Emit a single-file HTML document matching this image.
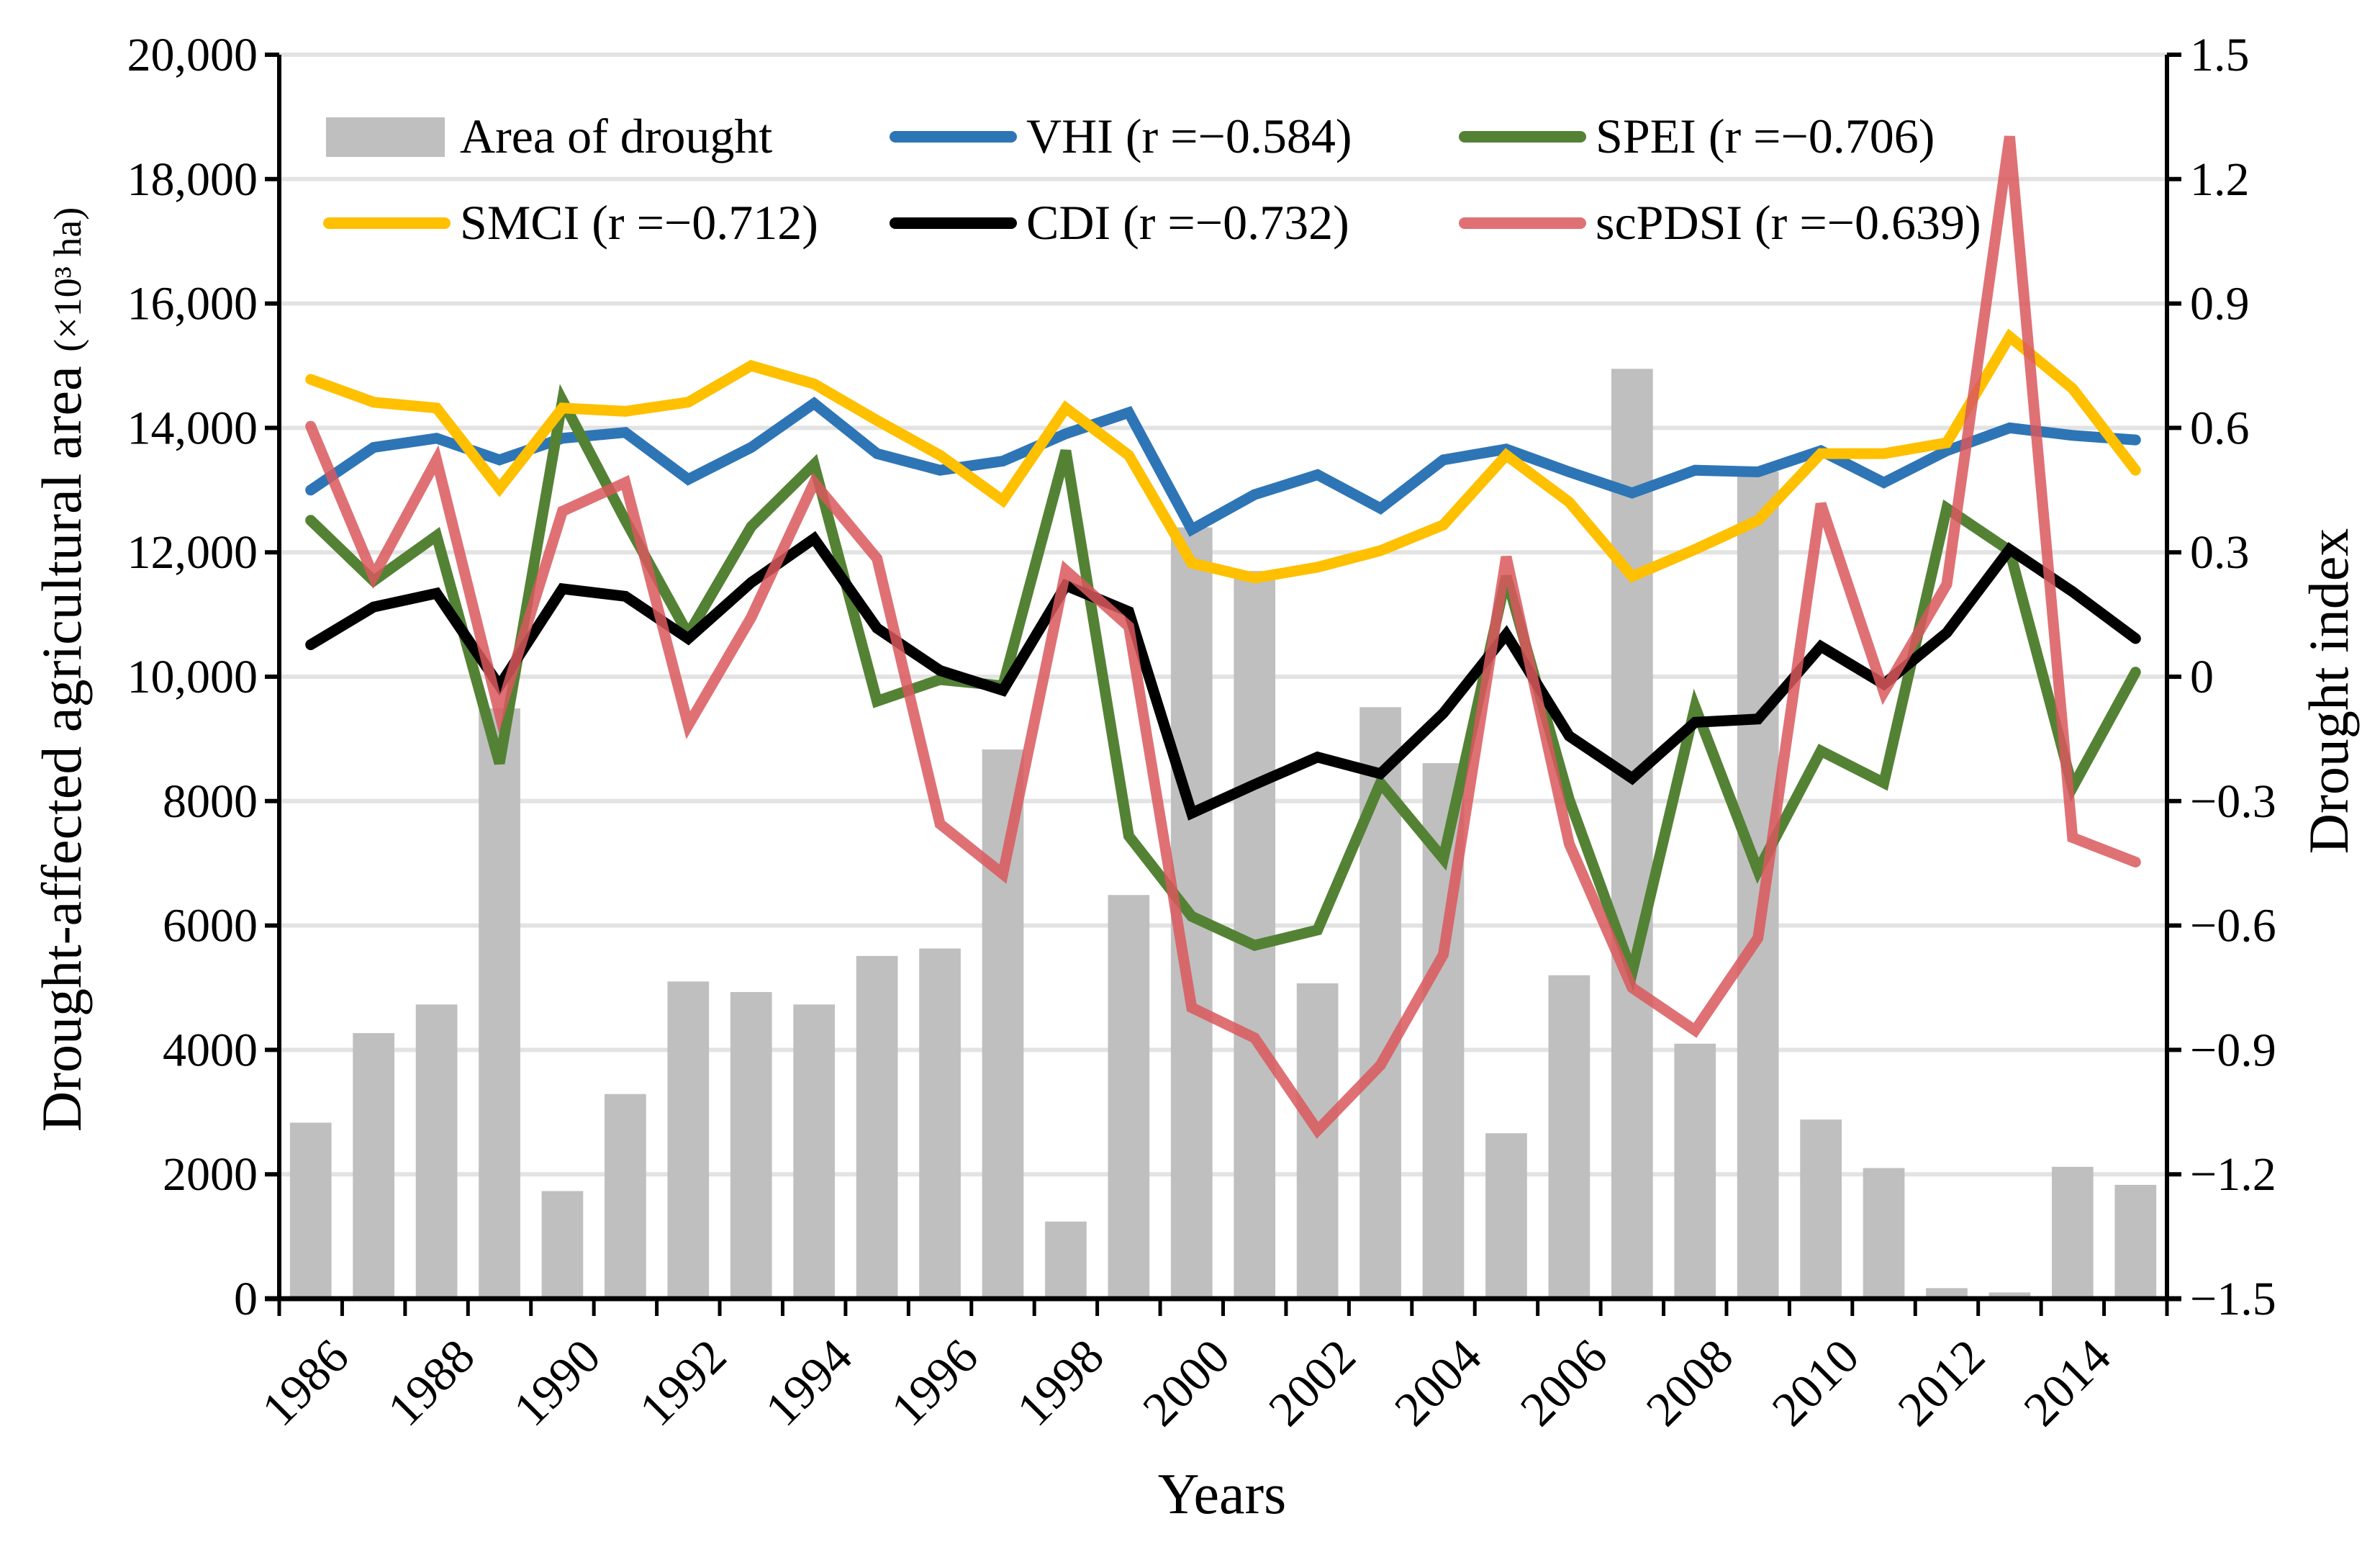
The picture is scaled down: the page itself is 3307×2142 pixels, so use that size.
<!DOCTYPE html>
<html><head><meta charset="utf-8"><style>
html,body{margin:0;padding:0;background:#fff;}
svg{display:block;}
svg text{font-family:"Liberation Serif","Times New Roman",serif;}
</style></head><body>
<svg id="chart" width="3307" height="2142" viewBox="0 0 3307 2142" xmlns="http://www.w3.org/2000/svg" font-family="Liberation Serif, serif">
<g id="grid"></g>
<g id="bars"></g>
<g id="lines"></g>
<g id="axes"></g>
<g id="legend"></g>
<text x="1698" y="2102" font-size="80" text-anchor="middle">Years</text>
<text transform="translate(112,930) rotate(-90)" font-size="78" text-anchor="middle">Drought-affected  agricultural area <tspan font-size="54">(×10³ ha)</tspan></text>
<text transform="translate(3262,960) rotate(-90)" font-size="78" text-anchor="middle">Drought index</text>
</svg>
<script>
const years = [1986,1987,1988,1989,1990,1991,1992,1993,1994,1995,1996,1997,1998,1999,2000,2001,2002,2003,2004,2005,2006,2007,2008,2009,2010,2011,2012,2013,2014,2015];
const area = [2830,4270,4730,9490,1730,3290,5100,4930,4730,5510,5630,8830,1240,6490,12400,11700,5070,9510,8610,2660,5200,14950,4100,13300,2880,2100,170,100,2120,1830];
const vhi = [0.45,0.553,0.575,0.523,0.575,0.589,0.476,0.553,0.659,0.538,0.498,0.52,0.586,0.637,0.355,0.439,0.487,0.406,0.523,0.549,0.494,0.443,0.498,0.494,0.545,0.468,0.545,0.6,0.582,0.571];
const spei = [0.377,0.231,0.34,-0.209,0.666,0.377,0.102,0.362,0.512,-0.059,-0.007,-0.022,0.545,-0.384,-0.578,-0.648,-0.611,-0.256,-0.439,0.242,-0.296,-0.714,-0.073,-0.468,-0.179,-0.256,0.406,0.304,-0.267,0.011];
const smci = [0.717,0.662,0.648,0.454,0.648,0.64,0.662,0.75,0.706,0.618,0.534,0.425,0.648,0.534,0.274,0.238,0.264,0.304,0.366,0.534,0.421,0.242,0.307,0.377,0.538,0.538,0.564,0.82,0.695,0.498];
const cdi = [0.077,0.168,0.201,-0.022,0.212,0.194,0.092,0.227,0.333,0.117,0.015,-0.033,0.22,0.157,-0.329,-0.26,-0.194,-0.234,-0.088,0.102,-0.143,-0.245,-0.11,-0.102,0.073,-0.018,0.106,0.307,0.205,0.092];
const scpdsi = [0.604,0.242,0.523,-0.088,0.399,0.468,-0.117,0.143,0.468,0.285,-0.355,-0.476,0.256,0.121,-0.798,-0.871,-1.094,-0.937,-0.67,0.289,-0.403,-0.75,-0.853,-0.63,0.417,-0.037,0.223,1.303,-0.388,-0.447];
const leftTicks = ["0","2000","4000","6000","8000","10,000","12,000","14,000","16,000","18,000","20,000"];
const rightTicks = ["−1.5","−1.2","−0.9","−0.6","−0.3","0","0.3","0.6","0.9","1.2","1.5"];

const NS="http://www.w3.org/2000/svg";
const X0=388,X1=3011,Y0=1804,Y1=76;
const band=(X1-X0)/years.length;
const xc=i=>X0+band*(i+0.5);
const yL=v=>Y0-(v/20000)*(Y0-Y1);
const yR=v=>Y0-((v+1.5)/3)*(Y0-Y1);
function mk(tag,attrs,parent){const e=document.createElementNS(NS,tag);for(const k in attrs)e.setAttribute(k,attrs[k]);parent.appendChild(e);return e;}
const grid=document.getElementById('grid'),bars=document.getElementById('bars'),lines=document.getElementById('lines'),axes=document.getElementById('axes'),legend=document.getElementById('legend');

for(let i=1;i<leftTicks.length;i++){
  const y=yL(i*2000);
  const g=mk('line',{x1:X0,x2:X1,y1:y,y2:y,stroke:'#e3e3e3','stroke-width':6},grid);
  
  
}
area.forEach((v,i)=>{
  const w=band*0.66;
  const r=mk('rect',{x:xc(i)-w/2,y:yL(v),width:w,height:Y0-yL(v),fill:'#bfbfbf'},bars);
  
  
});
const series=[[vhi,'#2e75b6',1,'vhi-line'],[spei,'#548235',1,'spei-line'],[smci,'#ffc000',1,'smci-line'],[cdi,'#000000',1,'cdi-line'],[scpdsi,'#d9585d',0.85,'scpdsi-line']];
series.forEach(s=>{
  const d=s[0].map((v,i)=>(i?'L':'M')+xc(i).toFixed(1)+' '+yR(v).toFixed(1)).join(' ');
  const p=mk('path',{d:d,fill:'none',stroke:s[1],'stroke-width':15,'stroke-opacity':s[2],'stroke-linejoin':'miter','stroke-linecap':'round'},lines);
  
  
});
const la=mk('line',{x1:X0,x2:X0,y1:Y1,y2:Y0,stroke:'#000','stroke-width':6},axes);


const ra=mk('line',{x1:X1,x2:X1,y1:Y1,y2:Y0,stroke:'#000','stroke-width':6},axes);


const xa=mk('line',{x1:X0-20,x2:X1+20,y1:Y0,y2:Y0,stroke:'#000','stroke-width':7},axes);


leftTicks.forEach((t,i)=>{
  const y=yL(i*2000);
  mk('line',{x1:X0-20,x2:X0,y1:y,y2:y,stroke:'#000','stroke-width':6},axes);
  const tx=mk('text',{x:X0-30,y:y+22,'font-size':66,'text-anchor':'end'},axes);
  tx.textContent=t;
  
  
});
rightTicks.forEach((t,i)=>{
  const y=yR(-1.5+i*0.3);
  mk('line',{x1:X1,x2:X1+20,y1:y,y2:y,stroke:'#000','stroke-width':6},axes);
  const tx=mk('text',{x:X1+32,y:y+22,'font-size':66},axes);
  tx.textContent=t;
  
  
});
for(let i=0;i<=years.length;i++){
  const x=X0+band*i;
  mk('line',{x1:x,x2:x,y1:Y0,y2:Y0+24,stroke:'#000','stroke-width':5},axes);
}
years.forEach((yv,i)=>{
  if(i%2)return;
  const x=xc(i)+22,y=Y0+50;
  const tx=mk('text',{transform:'translate('+x+','+y+') rotate(-45)','font-size':68,'text-anchor':'end','dominant-baseline':'hanging'},axes);
  tx.textContent=yv;
  
  
});
const legItems=[['bar','#bfbfbf','Area of drought',453,190,'legend-area'],['line','#2e75b6','VHI (r =−0.584)',1240,190,'legend-vhi'],['line','#548235','SPEI (r =−0.706)',2031,190,'legend-spei'],
['line','#ffc000','SMCI (r =−0.712)',453,310,'legend-smci'],['line','#000000','CDI (r =−0.732)',1240,310,'legend-cdi'],['line','#d9585d','scPDSI (r =−0.639)',2031,310,'legend-scpdsi']];
legItems.forEach(it=>{
  const g=mk('g',{},legend);
  
  
  if(it[0]==='bar') mk('rect',{x:it[3],y:it[4]-27,width:165,height:55,fill:it[1]},g);
  else mk('line',{x1:it[3]+4,x2:it[3]+165,y1:it[4],y2:it[4],stroke:it[1],'stroke-width':16,'stroke-linecap':'round','stroke-opacity':it[1]==='#d9585d'?0.85:1},g);
  const t=mk('text',{x:it[3]+186,y:it[4]+22,'font-size':68},g);
  t.textContent=it[2];
});
</script>
</body></html>
